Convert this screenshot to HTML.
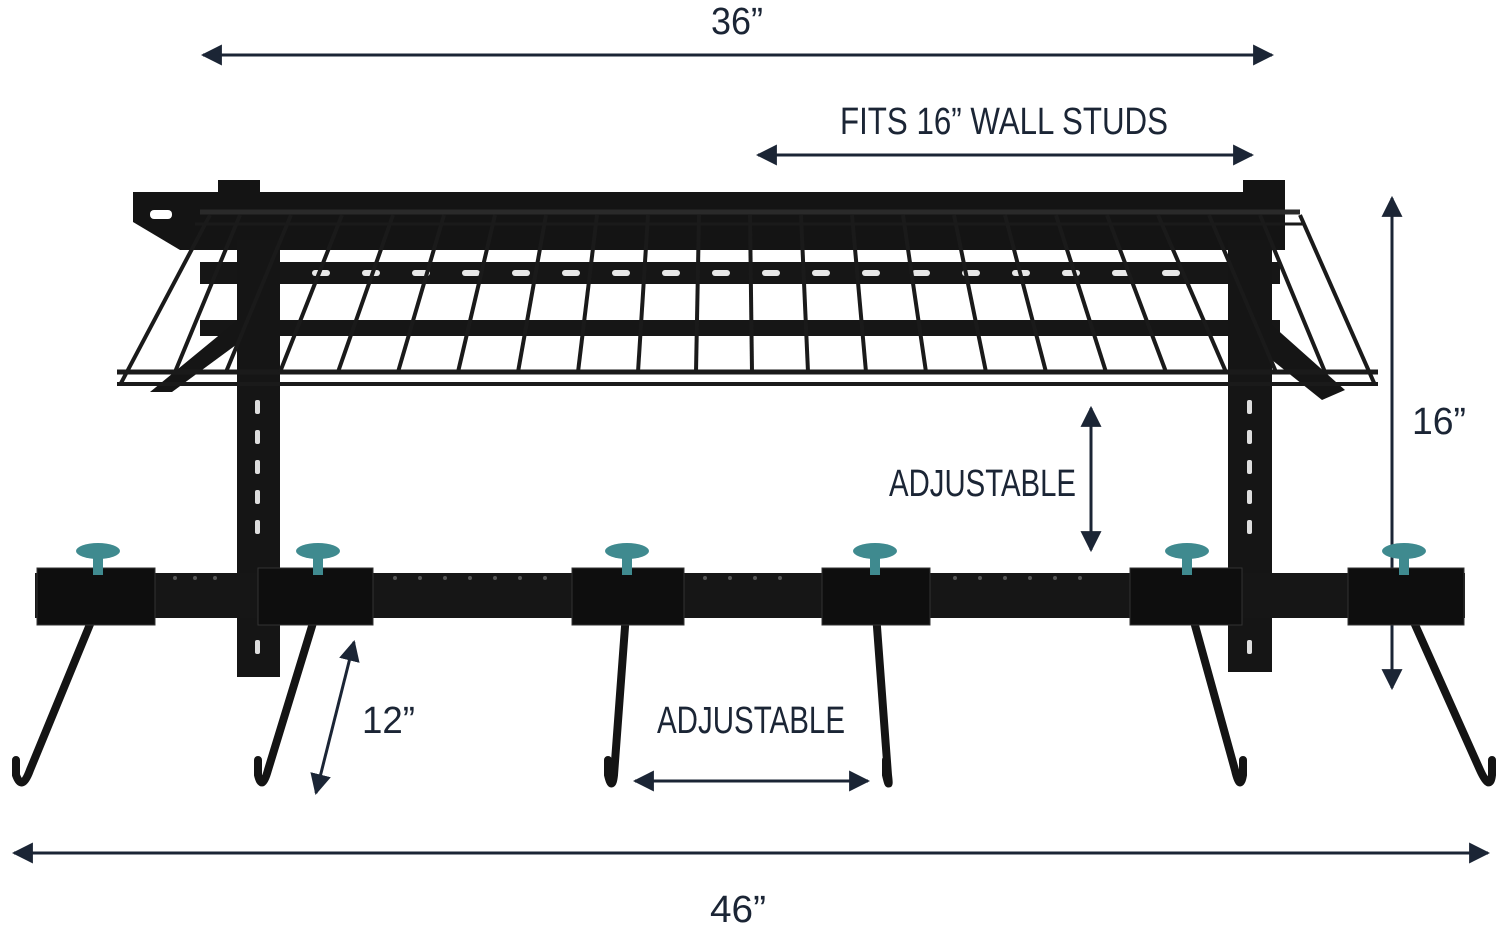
<!DOCTYPE html>
<html><head><meta charset="utf-8"><style>
html,body{margin:0;padding:0;background:#fff;}
svg{display:block;}
text{font-family:"Liberation Sans",sans-serif;fill:#1b2535;}
</style></head><body>
<svg width="1500" height="927" viewBox="0 0 1500 927" xmlns="http://www.w3.org/2000/svg">
<defs>
<marker id="ah" viewBox="0 0 10 10" refX="9" refY="5" markerWidth="7" markerHeight="7" orient="auto-start-reverse">
<path d="M0,0 L10,5 L0,10 z" fill="#1b2535"/></marker>
</defs>
<rect width="1500" height="927" fill="#fff"/>

<g stroke="#1b2535" stroke-width="3" fill="none">
<line x1="203" y1="55" x2="1272" y2="55" marker-start="url(#ah)" marker-end="url(#ah)"/>
<line x1="758" y1="155" x2="1252" y2="155" marker-start="url(#ah)" marker-end="url(#ah)"/>
<line x1="1392" y1="198" x2="1392" y2="688" marker-start="url(#ah)" marker-end="url(#ah)"/>
<line x1="1091" y1="408" x2="1091" y2="550" marker-start="url(#ah)" marker-end="url(#ah)"/>
<line x1="354" y1="642" x2="316" y2="793" marker-start="url(#ah)" marker-end="url(#ah)"/>
<line x1="635" y1="781" x2="868" y2="781" marker-start="url(#ah)" marker-end="url(#ah)"/>
<line x1="14" y1="853" x2="1488" y2="853" marker-start="url(#ah)" marker-end="url(#ah)"/>
</g>

<g font-size="38">
<text x="711" y="34" textLength="52" lengthAdjust="spacingAndGlyphs">36”</text>
<text x="840" y="134" textLength="328" lengthAdjust="spacingAndGlyphs">FITS 16” WALL STUDS</text>
<text x="1412" y="434" textLength="54" lengthAdjust="spacingAndGlyphs">16”</text>
<text x="889" y="496" textLength="187" lengthAdjust="spacingAndGlyphs">ADJUSTABLE</text>
<text x="362" y="733" textLength="53" lengthAdjust="spacingAndGlyphs">12”</text>
<text x="657" y="733" textLength="188" lengthAdjust="spacingAndGlyphs">ADJUSTABLE</text>
<text x="710" y="922" textLength="56" lengthAdjust="spacingAndGlyphs">46”</text>
</g>

<!-- back wall bracket -->
<path d="M133,192 L1285,192 L1285,250 L180,250 L133,222 Z" fill="#141414"/>
<rect x="150" y="210" width="22" height="9" rx="4" fill="#fff"/>
<rect x="218" y="180" width="42" height="20" fill="#141414"/>
<rect x="1243" y="180" width="42" height="20" fill="#141414"/>
<rect x="200" y="262" width="1080" height="22" fill="#161616"/>
<g fill="#e8e8e8">
<rect x="262" y="270" width="18" height="6" rx="3"/><rect x="312" y="270" width="18" height="6" rx="3"/>
<rect x="362" y="270" width="18" height="6" rx="3"/><rect x="412" y="270" width="18" height="6" rx="3"/>
<rect x="462" y="270" width="18" height="6" rx="3"/><rect x="512" y="270" width="18" height="6" rx="3"/>
<rect x="562" y="270" width="18" height="6" rx="3"/><rect x="612" y="270" width="18" height="6" rx="3"/>
<rect x="662" y="270" width="18" height="6" rx="3"/><rect x="712" y="270" width="18" height="6" rx="3"/>
<rect x="762" y="270" width="18" height="6" rx="3"/><rect x="812" y="270" width="18" height="6" rx="3"/>
<rect x="862" y="270" width="18" height="6" rx="3"/><rect x="912" y="270" width="18" height="6" rx="3"/>
<rect x="962" y="270" width="18" height="6" rx="3"/><rect x="1012" y="270" width="18" height="6" rx="3"/>
<rect x="1062" y="270" width="18" height="6" rx="3"/><rect x="1112" y="270" width="18" height="6" rx="3"/>
<rect x="1162" y="270" width="18" height="6" rx="3"/>
</g>
<rect x="200" y="320" width="1080" height="16" fill="#161616"/>

<!-- uprights -->
<rect x="237" y="240" width="43" height="437" fill="#151515"/>
<rect x="1228" y="240" width="44" height="432" fill="#151515"/>
<g fill="#ddd">
<rect x="255" y="400" width="5" height="14" rx="2"/><rect x="255" y="430" width="5" height="14" rx="2"/>
<rect x="255" y="460" width="5" height="14" rx="2"/><rect x="255" y="490" width="5" height="14" rx="2"/>
<rect x="255" y="520" width="5" height="14" rx="2"/><rect x="255" y="640" width="5" height="14" rx="2"/>
<rect x="1247" y="400" width="5" height="14" rx="2"/><rect x="1247" y="430" width="5" height="14" rx="2"/>
<rect x="1247" y="460" width="5" height="14" rx="2"/><rect x="1247" y="490" width="5" height="14" rx="2"/>
<rect x="1247" y="520" width="5" height="14" rx="2"/><rect x="1247" y="640" width="5" height="14" rx="2"/>
</g>
<path d="M150,392 L172,392 L240,342 L240,318 Z" fill="#151515"/>
<path d="M1272,325 L1345,390 L1322,400 L1272,360 Z" fill="#151515"/>

<!-- wire shelf (in front) -->
<g stroke="#1a1a1a" fill="none">
<line x1="200" y1="212" x2="1300" y2="212" stroke-width="5" stroke="#2a2a2a"/>
<line x1="195" y1="224" x2="1305" y2="224" stroke-width="3"/>
<line x1="117" y1="372" x2="1378" y2="372" stroke-width="5"/>
<line x1="117" y1="384" x2="1378" y2="384" stroke-width="4"/>
<g stroke-width="4">
<line x1="210" y1="215" x2="120" y2="385"/>
<line x1="240" y1="215" x2="175" y2="372"/>
<line x1="291" y1="215" x2="226" y2="372"/>
<line x1="342" y1="215" x2="280" y2="372"/>
<line x1="393" y1="215" x2="338" y2="372"/>
<line x1="444" y1="215" x2="398" y2="372"/>
<line x1="495" y1="215" x2="458" y2="372"/>
<line x1="546" y1="215" x2="518" y2="372"/>
<line x1="597" y1="215" x2="578" y2="372"/>
<line x1="648" y1="215" x2="638" y2="372"/>
<line x1="699" y1="215" x2="696" y2="372"/>
<line x1="750" y1="215" x2="752" y2="372"/>
<line x1="801" y1="215" x2="808" y2="372"/>
<line x1="852" y1="215" x2="866" y2="372"/>
<line x1="903" y1="215" x2="926" y2="372"/>
<line x1="954" y1="215" x2="986" y2="372"/>
<line x1="1005" y1="215" x2="1046" y2="372"/>
<line x1="1056" y1="215" x2="1106" y2="372"/>
<line x1="1107" y1="215" x2="1166" y2="372"/>
<line x1="1158" y1="215" x2="1226" y2="372"/>
<line x1="1209" y1="215" x2="1276" y2="372"/>
<line x1="1260" y1="215" x2="1325" y2="372"/>
<line x1="1300" y1="215" x2="1375" y2="385"/>
</g>
</g>

<!-- hooks -->
<g stroke="#141414" stroke-width="8" fill="none" stroke-linecap="round">
<path d="M100,600 L30,770 Q22,792 16,775 L16,760"/>
<path d="M320,600 L268,770 Q262,792 258,775 L258,760"/>
<path d="M627,600 L614,775 Q612,792 608,775 L608,760"/>
<path d="M875,600 L888,775 Q890,792 886,775 L886,760"/>
<path d="M1188,600 L1235,770 Q1240,792 1243,775 L1243,760"/>
<path d="M1404,600 L1480,770 Q1490,792 1492,775 L1492,760"/>
</g>

<rect x="35" y="573" width="1430" height="45" fill="#161616"/>
<g fill="#555">
<circle cx="175" cy="578" r="2"/><circle cx="195" cy="578" r="2"/><circle cx="215" cy="578" r="2"/>
<circle cx="395" cy="578" r="2"/><circle cx="420" cy="578" r="2"/><circle cx="445" cy="578" r="2"/><circle cx="470" cy="578" r="2"/><circle cx="495" cy="578" r="2"/><circle cx="520" cy="578" r="2"/><circle cx="545" cy="578" r="2"/>
<circle cx="705" cy="578" r="2"/><circle cx="730" cy="578" r="2"/><circle cx="755" cy="578" r="2"/><circle cx="780" cy="578" r="2"/>
<circle cx="955" cy="578" r="2"/><circle cx="980" cy="578" r="2"/><circle cx="1005" cy="578" r="2"/><circle cx="1030" cy="578" r="2"/><circle cx="1055" cy="578" r="2"/><circle cx="1080" cy="578" r="2"/>
</g>
<g fill="#0e0e0e" stroke="#333" stroke-width="1">
<rect x="37" y="568" width="118" height="57"/>
<rect x="258" y="568" width="115" height="57"/>
<rect x="572" y="568" width="112" height="57"/>
<rect x="822" y="568" width="108" height="57"/>
<rect x="1130" y="568" width="112" height="57"/>
<rect x="1348" y="568" width="116" height="57"/>
</g>
<g fill="#3f8a8f">
<g transform="translate(98,0)"><ellipse cx="0" cy="551" rx="22" ry="8"/><rect x="-5" y="551" width="10" height="24"/></g>
<g transform="translate(318,0)"><ellipse cx="0" cy="551" rx="22" ry="8"/><rect x="-5" y="551" width="10" height="24"/></g>
<g transform="translate(627,0)"><ellipse cx="0" cy="551" rx="22" ry="8"/><rect x="-5" y="551" width="10" height="24"/></g>
<g transform="translate(875,0)"><ellipse cx="0" cy="551" rx="22" ry="8"/><rect x="-5" y="551" width="10" height="24"/></g>
<g transform="translate(1187,0)"><ellipse cx="0" cy="551" rx="22" ry="8"/><rect x="-5" y="551" width="10" height="24"/></g>
<g transform="translate(1404,0)"><ellipse cx="0" cy="551" rx="22" ry="8"/><rect x="-5" y="551" width="10" height="24"/></g>
</g>
</svg>
</body></html>
